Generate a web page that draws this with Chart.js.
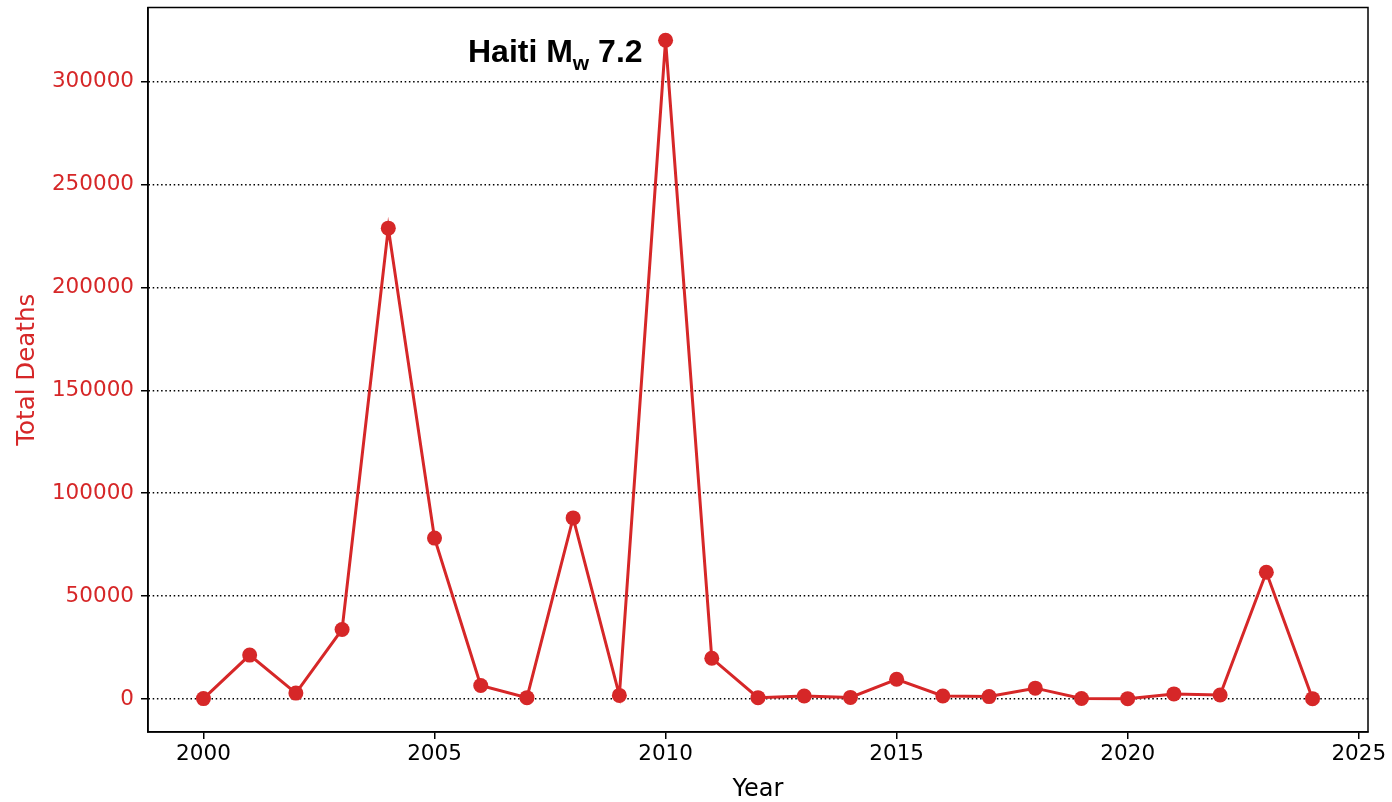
<!DOCTYPE html>
<html>
<head>
<meta charset="utf-8">
<script src="https://cdn.jsdelivr.net/npm/chart.js@4/dist/chart.umd.min.js"></script>
<style>
  html, body { margin: 0; padding: 0; background: #fff; }
  canvas { display: block; }
</style>
</head>
<body>
<canvas id="deaths" width="1392" height="802"></canvas>
<script>
// data
const years = [2000, 2001, 2002, 2003, 2004, 2005, 2006, 2007, 2008, 2009, 2010, 2011, 2012,
  2013, 2014, 2015, 2016, 2017, 2018, 2019, 2020, 2021, 2022, 2023, 2024];
const totalDeaths = [231, 21357, 2900, 33819, 228802, 78200, 6605, 700, 88011, 1790, 320120, 19800, 700,
  1500, 800, 9600, 1500, 1200, 5300, 250, 200, 2500, 2000, 61600, 200];
const xTicks = [2000, 2005, 2010, 2015, 2020, 2025];
const yTicks = [0, 50000, 100000, 150000, 200000, 250000, 300000];
const annotation = { year: 2010, main: 'Haiti M', sub: 'w', tail: ' 7.2' };

const RED = '#d62728';
const AXIS_FONT = "'DejaVu Sans', sans-serif";

// box round the plot area (top + right sides are not drawn by the axes)
const frame = {
  id: 'frame',
  afterDatasetsDraw(chart) {
    const { ctx, chartArea: a } = chart;
    ctx.save();
    ctx.strokeStyle = '#000';
    ctx.lineWidth = 1.5;
    ctx.strokeRect(a.left, a.top, a.right - a.left, a.bottom - a.top);
    ctx.restore();
  },
};

// "Haiti Mw 7.2" label next to the peak
const peakLabel = {
  id: 'peakLabel',
  afterDatasetsDraw(chart) {
    const { ctx, scales } = chart;
    const i = years.indexOf(annotation.year);
    const px = scales.x.getPixelForValue(years[i]);
    const py = scales.y.getPixelForValue(totalDeaths[i]);
    const big = "bold 32px 'Liberation Sans', Arial, sans-serif";
    const small = "bold 21px 'Liberation Sans', Arial, sans-serif";
    ctx.save();
    ctx.fillStyle = '#000';
    ctx.textBaseline = 'alphabetic';
    ctx.font = big;
    const wMain = ctx.measureText(annotation.main).width;
    const wTail = ctx.measureText(annotation.tail).width;
    ctx.font = small;
    const wSub = ctx.measureText(annotation.sub).width;
    const right = px - 23;
    const base = py + 22;
    let x = right - wMain - wSub - wTail;
    ctx.font = big;
    ctx.fillText(annotation.main, x, base);
    x += wMain;
    ctx.font = small;
    ctx.fillText(annotation.sub, x, base + 8);
    x += wSub;
    ctx.font = big;
    ctx.fillText(annotation.tail, x, base);
    ctx.restore();
  },
};

new Chart(document.getElementById('deaths'), {
  type: 'line',
  data: {
    datasets: [{
      data: years.map((y, i) => ({ x: y, y: totalDeaths[i] })),
      borderColor: RED,
      backgroundColor: RED,
      borderWidth: 3,
      pointRadius: 7.5,
      pointBorderWidth: 0,
      pointHoverRadius: 7.5,
      tension: 0,
      fill: false,
    }],
  },
  options: {
    responsive: false,
    animation: false,
    layout: { padding: { left: 0, right: 24, top: 5, bottom: 0 } },
    plugins: { legend: { display: false }, tooltip: { enabled: false } },
    scales: {
      x: {
        type: 'linear',
        min: 1998.8,
        max: 2025.2,
        afterFit: s => { s.height = 70; s.paddingLeft = 0; s.paddingRight = 0; },
        afterBuildTicks: s => { s.ticks = xTicks.map(v => ({ value: v })); },
        grid: { drawOnChartArea: false, drawTicks: true, tickLength: 7, color: '#000', lineWidth: 1.5 },
        border: { display: true, color: '#000', width: 1.5 },
        ticks: {
          color: '#000',
          padding: 3,
          maxRotation: 0,
          font: { family: AXIS_FONT, size: 21.5 },
          callback: v => String(v),
        },
        title: {
          display: true,
          text: 'Year',
          color: '#000',
          font: { family: AXIS_FONT, size: 24, lineHeight: 1 },
          padding: { top: 0, bottom: 0 },
        },
      },
      y: {
        type: 'linear',
        min: -16000,
        max: 336000,
        afterFit: s => { s.width = 148; s.paddingTop = 0; s.paddingBottom = 0; },
        afterBuildTicks: s => { s.ticks = yTicks.map(v => ({ value: v })); },
        grid: {
          drawOnChartArea: true,
          drawTicks: true,
          tickLength: 7,
          color: '#000',
          lineWidth: 1.5,
          tickColor: '#000',
          tickWidth: 1.5,
          tickBorderDash: [],
        },
        border: { display: true, color: '#000', width: 1.5, dash: [1.5, 2.7] },
        ticks: {
          color: RED,
          padding: 7,
          font: { family: AXIS_FONT, size: 21.5 },
          callback: v => String(v),
        },
        title: {
          display: true,
          text: 'Total Deaths',
          color: RED,
          font: { family: AXIS_FONT, size: 24.5, lineHeight: 1 },
          padding: { top: 15, bottom: 0 },
        },
      },
    },
  },
  plugins: [frame, peakLabel],
});
</script>
</body>
</html>
